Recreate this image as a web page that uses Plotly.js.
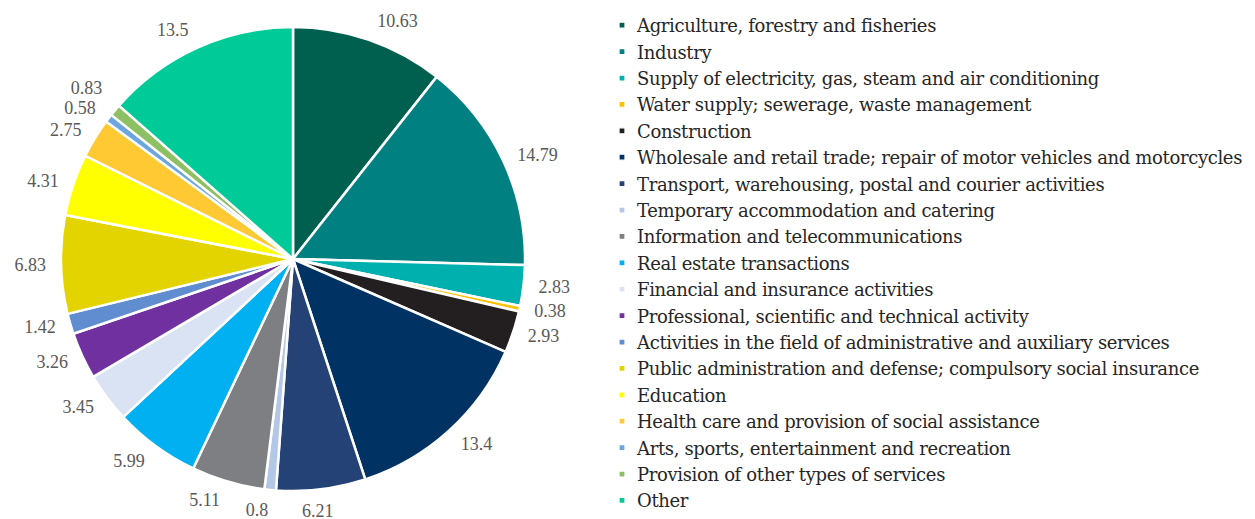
<!DOCTYPE html>
<html>
<head>
<meta charset="utf-8">
<script src="https://cdn.plot.ly/plotly-3.0.1.min.js"></script>
<style>
html,body{margin:0;padding:0;background:#fff;}
#chart{width:1255px;height:519px;}
text.legendtext{letter-spacing:-0.35px;}
path.textline{stroke-width:0 !important;stroke:none !important;}
</style>
</head>
<body>
<div id="chart"></div>
<script>
const categories = [
  "Agriculture, forestry and fisheries",
  "Industry",
  "Supply of electricity, gas, steam and air conditioning",
  "Water supply; sewerage, waste management",
  "Construction",
  "Wholesale and retail trade; repair of motor vehicles and motorcycles",
  "Transport, warehousing, postal and courier activities",
  "Temporary accommodation and catering",
  "Information and telecommunications",
  "Real estate transactions",
  "Financial and insurance activities",
  "Professional, scientific and technical activity",
  "Activities in the field of administrative and auxiliary services",
  "Public administration and defense; compulsory social insurance",
  "Education",
  "Health care and provision of social assistance",
  "Arts, sports, entertainment and recreation",
  "Provision of other types of services",
  "Other"
];
const shares = [10.63, 14.79, 2.83, 0.38, 2.93, 13.4, 6.21, 0.8, 5.11, 5.99, 3.45, 3.26, 1.42, 6.83, 4.31, 2.75, 0.58, 0.83, 13.5];
const sliceColors = ["#00604F","#008080","#00B0AE","#FFC000","#231F20","#003264","#254277","#B4C7E7","#7E7F82","#00B0F0","#DAE3F3","#7030A0","#5F8DCF","#E3D400","#FFFF00","#FFC933","#6CA6E0","#8DC063","#00CA97"];

const W = 1255, H = 519;
const cx = 293, cyTop = 259, R = 232, Rlab = 242;
function dom(r) {
  return {
    x: [(cx - r) / W, (cx + r) / W],
    y: [(H - cyTop - r) / H, (H - cyTop + r) / H]
  };
}

const pieTrace = {
  type: 'pie',
  labels: categories,
  values: shares,
  textinfo: 'none',
  sort: false,
  direction: 'clockwise',
  rotation: 0,
  marker: {colors: sliceColors, line: {color: '#ffffff', width: 2.5}},
  domain: dom(R),
  hoverinfo: 'label+value'
};

// labels whose Plotly placement is nudged (rotated) to mimic the reference
const nudged = {6: 6, 7: -1};

function labelTrace(rot, pick) {
  return {
    type: 'pie',
    labels: categories,
    values: shares,
    text: shares.map((v, i) => pick(i) ? String(v) : ''),
    textinfo: 'text',
    textposition: 'outside',
    sort: false,
    direction: 'clockwise',
    rotation: rot,
    showlegend: false,
    marker: {colors: shares.map(() => 'rgba(0,0,0,0)'), line: {width: 0}},
    outsidetextfont: {family: 'Liberation Serif, serif', size: 18, color: '#595959'},
    domain: dom(Rlab),
    hoverinfo: 'skip'
  };
}

const traces = [labelTrace(0, i => !(i in nudged))];
Object.keys(nudged).forEach(k => {
  const idx = +k;
  traces.push(labelTrace(nudged[k], i => i === idx));
});
traces.push(pieTrace);

const layout = {
  width: W, height: H,
  margin: {l: 0, r: 0, t: 0, b: 0},
  paper_bgcolor: '#ffffff',
  showlegend: true,
  legend: {
    x: 0.4757, xanchor: 'left', y: 0.957, yanchor: 'top',
    font: {family: 'DejaVu Serif, serif', size: 18, color: '#262626'},
    tracegroupgap: 0, itemclick: false
  }
};

Plotly.newPlot('chart', traces, layout, {displayModeBar: false, staticPlot: true}).then(() => {
  document.querySelectorAll('#chart .legendpoints path').forEach(p => {
    const t = p.getAttribute('transform') || '';
    p.setAttribute('transform', t + ' translate(5,0) scale(0.5)');
  });
});
</script>
</body>
</html>
